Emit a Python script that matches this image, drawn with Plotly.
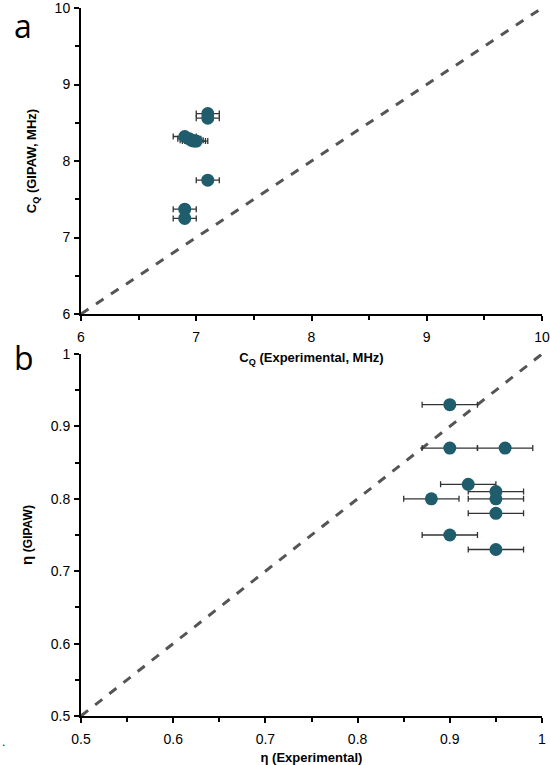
import plotly.graph_objects as go

# Panel a: C_Q values (MHz)
cq_exp = [7.10, 7.10, 6.90, 6.94, 6.96, 6.98, 7.00, 7.10, 6.90, 6.90]
cq_gipaw = [8.62, 8.56, 8.32, 8.29, 8.27, 8.26, 8.26, 7.75, 7.37, 7.25]
cq_err = [0.10, 0.10, 0.10, 0.10, 0.10, 0.10, 0.10, 0.10, 0.10, 0.10]

# Panel b: eta values
eta_exp = [0.90, 0.90, 0.96, 0.92, 0.95, 0.95, 0.88, 0.95, 0.90, 0.95]
eta_gipaw = [0.93, 0.87, 0.87, 0.82, 0.81, 0.80, 0.80, 0.78, 0.75, 0.73]
eta_err = [0.03, 0.03, 0.03, 0.03, 0.03, 0.03, 0.03, 0.03, 0.03, 0.03]

cq_range = [6, 10]
eta_range = [0.5, 1.0]

W, H = 550, 765
x0, x1 = 81 / W, 542 / W
ya = [1 - 314 / H, 1 - 8 / H]
yb = [1 - 716 / H, 1 - 354 / H]

marker_color = "#1f5c6c"
err_color = "#333333"
dash_color = "#555555"
font = "Liberation Sans"

fig = go.Figure()

fig.add_trace(go.Scatter(x=cq_range, y=cq_range, mode="lines",
                         line=dict(color=dash_color, width=3, dash="dash"),
                         xaxis="x", yaxis="y", showlegend=False, hoverinfo="skip"))
fig.add_trace(go.Scatter(x=cq_exp, y=cq_gipaw, mode="markers",
                         marker=dict(color=marker_color, size=13),
                         error_x=dict(type="data", array=cq_err, color=err_color, thickness=1.3, width=3),
                         xaxis="x", yaxis="y", showlegend=False))

fig.add_trace(go.Scatter(x=eta_range, y=eta_range, mode="lines",
                         line=dict(color=dash_color, width=3, dash="dash"),
                         xaxis="x2", yaxis="y2", showlegend=False, hoverinfo="skip"))
fig.add_trace(go.Scatter(x=eta_exp, y=eta_gipaw, mode="markers",
                         marker=dict(color=marker_color, size=13),
                         error_x=dict(type="data", array=eta_err, color=err_color, thickness=1.3, width=3),
                         xaxis="x2", yaxis="y2", showlegend=False))

def ax(domain, rng, dtick, anchor, title, standoff, lblstand):
    return dict(domain=domain, range=rng, dtick=dtick, tick0=rng[0],
                showgrid=False, zeroline=False, showline=True, linecolor="black", linewidth=2,
                ticks="outside", ticklen=5, tickwidth=1.5, tickcolor="black",
                minor=dict(dtick=dtick / 2, tick0=rng[0], ticks="outside", ticklen=4,
                           tickcolor="black", tickwidth=1.5),
                tickfont=dict(family=font, size=14, color="black"),
                ticklabelstandoff=lblstand, ticklabeloverflow="allow",
                anchor=anchor, fixedrange=True, automargin=False,
                title=dict(text=title, font=dict(family=font, size=13, color="black"),
                           standoff=standoff))

fig.update_layout(
    width=W, height=H,
    margin=dict(l=0, r=0, t=0, b=0, autoexpand=False),
    paper_bgcolor="white", plot_bgcolor="white",
    xaxis=ax([x0, x1], cq_range, 1, "y", "<b>C<sub>Q</sub> (Experimental, MHz)</b>", 9, 4),
    yaxis=ax(ya, cq_range, 1, "x", "<b>C<sub>Q</sub> (GIPAW, MHz)</b>", 15, 1),
    xaxis2=ax([x0, x1], eta_range, 0.1, "y2", "<b>η (Experimental)</b>", 9, 4),
    yaxis2=ax(yb, eta_range, 0.1, "x2",
              "<b><span style='font-size:15px'>η</span> <span style='font-size:12px'>(GIPAW)</span></b>", 15, 1),
    annotations=[
        dict(text="a", x=12 / W, y=1 - 2 / H, xref="paper", yref="paper", xanchor="left", yanchor="top",
             showarrow=False, font=dict(family="Open Sans", size=32, color="black")),
        dict(text="b", x=12 / W, y=1 - 334 / H, xref="paper", yref="paper", xanchor="left", yanchor="top",
             showarrow=False, font=dict(family="Open Sans", size=32, color="black")),
        dict(text=".", x=0, y=1 - 742 / H, xref="paper", yref="paper", xanchor="left", yanchor="middle",
             showarrow=False, font=dict(family=font, size=12, color="black")),
    ],
)

fig.write_html("out.html", config={"displayModeBar": False},
               post_script="document.body.style.margin='0';")
